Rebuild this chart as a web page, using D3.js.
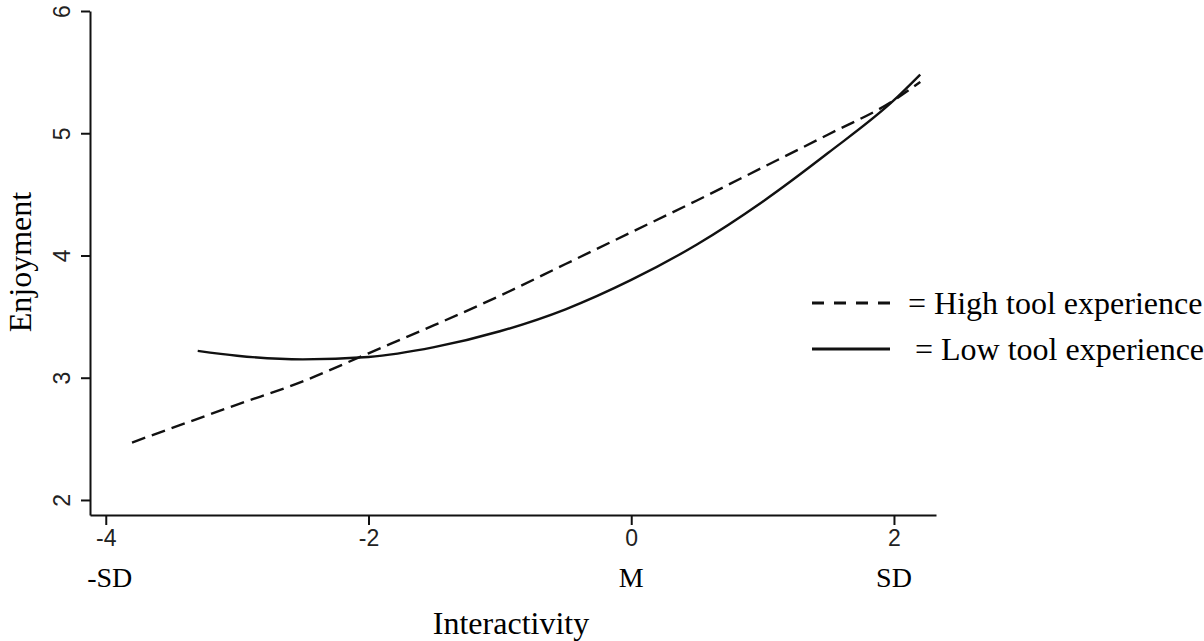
<!DOCTYPE html>
<html>
<head>
<meta charset="utf-8">
<script src="https://cdn.jsdelivr.net/npm/d3@7"></script>
<style>
  html, body { margin: 0; padding: 0; background: #fff; }
  svg { display: block; }
</style>
</head>
<body>
<svg id="chart" width="1204" height="641"></svg>
<script>
// ---- data ----
const highX = [-3.8, -3, -2.5, -2, -1.5, -1, -0.5, 0, 0.5, 1, 1.5, 2, 2.2];
const highY = [2.47, 2.78, 2.97, 3.20, 3.43, 3.67, 3.93, 4.19, 4.45, 4.72, 4.99, 5.27, 5.42];
const lowX  = [-3.3, -3, -2.5, -2, -1.5, -1, -0.5, 0, 0.5, 1, 1.5, 2, 2.2];
const lowY  = [3.22, 3.18, 3.15, 3.17, 3.25, 3.38, 3.56, 3.80, 4.09, 4.44, 4.84, 5.27, 5.48];
const xTicks = [-4, -2, 0, 2];
const yTicks = [2, 3, 4, 5, 6];
const sdLabels = ["-SD", "M", "SD"];
const sdValues = [-3.97, 0, 2];
const legendLabels = ["= High tool experience", "= Low tool experience"];
const xTitle = "Interactivity";
const yTitle = "Enjoyment";

// ---- layout ----
const svg = d3.select("#chart");
const x = d3.scaleLinear().domain([-4.12, 2.32]).range([90, 936]);
const y = d3.scaleLinear().domain([1.877, 6]).range([515, 11]);
const SANS = "'Liberation Sans', Arial, Helvetica, sans-serif";
const SERIF = "'Liberation Serif', 'Times New Roman', Times, serif";

// axes
const fmt = d => String(d);
const xAxis = svg.append("g").attr("transform", `translate(0,${y.range()[0]})`)
  .call(d3.axisBottom(x).tickValues(xTicks).tickSize(10).tickSizeOuter(0).tickFormat(fmt));
const yAxis = svg.append("g").attr("transform", `translate(${x.range()[0]},0)`)
  .call(d3.axisLeft(y).tickValues(yTicks).tickSize(9).tickSizeOuter(0).tickFormat(fmt));

[xAxis, yAxis].forEach(g => {
  g.select(".domain").attr("stroke", "#111").attr("stroke-width", 2);
  g.selectAll(".tick line").attr("stroke", "#111").attr("stroke-width", 2);
  g.selectAll(".tick text").attr("fill", "#222")
    .attr("font-family", SANS).attr("font-size", 23);
});
xAxis.selectAll(".tick text").attr("y", 15).attr("dy", "0.71em");
yAxis.selectAll(".tick text")
  .attr("x", null).attr("dy", null).attr("text-anchor", "middle")
  .attr("transform", "translate(-20,0) rotate(-90)");

// SD / M labels
svg.append("g").selectAll("text").data(sdLabels).join("text")
  .attr("x", (d, i) => x(sdValues[i]))
  .attr("y", 587)
  .attr("text-anchor", "middle")
  .attr("font-family", SERIF).attr("font-size", 28).attr("fill", "#000")
  .text(d => d);

// axis titles
svg.append("text").attr("x", 511).attr("y", 634).attr("text-anchor", "middle")
  .attr("font-family", SERIF).attr("font-size", 32).text(xTitle);
svg.append("text").attr("transform", "translate(31,262) rotate(-90)").attr("text-anchor", "middle")
  .attr("font-family", SERIF).attr("font-size", 32).text(yTitle);

// lines
const line = d3.line().x(d => x(d[0])).y(d => y(d[1])).curve(d3.curveMonotoneX);
svg.append("path").datum(highX.map((v, i) => [v, highY[i]]))
  .attr("d", line).attr("fill", "none").attr("stroke", "#111")
  .attr("stroke-width", 2.4).attr("stroke-dasharray", "14,7");
svg.append("path").datum(lowX.map((v, i) => [v, lowY[i]]))
  .attr("d", line).attr("fill", "none").attr("stroke", "#111")
  .attr("stroke-width", 2.4);

// legend
const lg = svg.append("g");
const rows = [
  { dash: "12,10", ly: 303, tx: 908, ty: 314 },
  { dash: null, ly: 349, tx: 915, ty: 360 }
];
rows.forEach((r, i) => {
  const l = lg.append("line").attr("x1", 812).attr("x2", 890).attr("y1", r.ly).attr("y2", r.ly)
    .attr("stroke", "#111").attr("stroke-width", 3);
  if (r.dash) l.attr("stroke-dasharray", r.dash);
  lg.append("text").attr("x", r.tx).attr("y", r.ty)
    .attr("font-family", SERIF).attr("font-size", 32).attr("fill", "#000")
    .text(legendLabels[i]);
});
</script>
</body>
</html>
